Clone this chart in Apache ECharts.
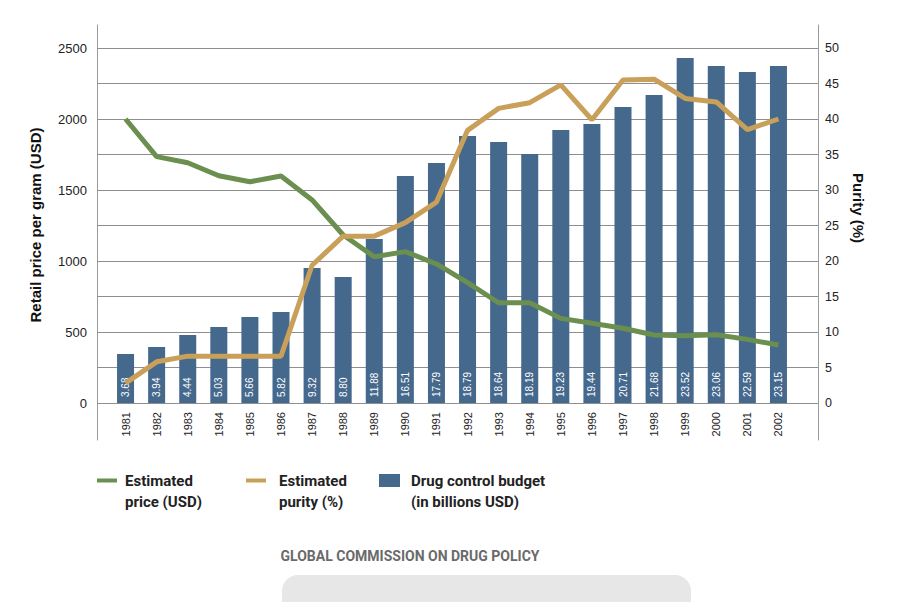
<!DOCTYPE html>
<html>
<head>
<meta charset="utf-8">
<script src="https://cdn.jsdelivr.net/npm/echarts@6/dist/echarts.min.js"></script>
<style>
html,body{margin:0;padding:0;background:#fff;}
#chart{width:911px;height:602px;}
</style>
</head>
<body>
<div id="chart"></div>
<script>
const years = ['1981','1982','1983','1984','1985','1986','1987','1988','1989','1990','1991','1992','1993','1994','1995','1996','1997','1998','1999','2000','2001','2002'];
const budgetLabels = ['3.68','3.94','4.44','5.03','5.66','5.82','9.32','8.80','11.88','16.51','17.79','18.79','18.64','18.19','19.23','19.44','20.71','21.68','23.52','23.06','22.59','23.15'];
const budgetBarHeights = [345,394,479,535,606,641,951,887,1155,1599,1690,1880,1838,1754,1923,1965,2085,2169,2430,2373,2331,2373];
const price = [2000,1735,1692,1600,1558,1599,1430,1183,1030,1066,979,847,706,706,596,561,526,479,474,480,448,408];
const purity = [2.8,5.8,6.6,6.6,6.6,6.6,19.4,23.5,23.5,25.4,28.3,38.4,41.5,42.3,44.8,39.9,45.5,45.6,42.9,42.4,38.5,40.0];
const names = {
  price: 'Estimated price (USD)',
  purity: 'Estimated purity (%)',
  budget: 'Drug control budget (in billions USD)'
};
const legendText = {
  'Estimated price (USD)': '\nEstimated\nprice (USD)',
  'Estimated purity (%)': '\nEstimated\npurity (%)',
  'Drug control budget (in billions USD)': '\nDrug control budget\n(in billions USD)'
};

const COL_BAR = '#45688d', COL_PRICE = '#6a8f4f', COL_PURITY = '#c9a05a';
const GRID_COL = '#8e8e8e';
const FONT = 'Liberation Sans, Arial, sans-serif';

const chart = echarts.init(document.getElementById('chart'), null, {renderer: 'svg'});

function legendFor(name, left, w, h, gap) {
  return {
    orient: 'horizontal', top: 449, left: left, padding: 0,
    data: [{name: name, icon: 'rect'}], itemWidth: w, itemHeight: h,
    formatter: n => legendText[n],
    textStyle: {fontFamily: 'Roboto, sans-serif', fontWeight: 'bold', fontSize: 15, lineHeight: 21, color: '#222', padding: [0, 0, 0, gap]},
    selectedMode: false
  };
}

chart.setOption({
  animation: false,
  backgroundColor: '#fff',
  grid: [
    {left: 97, right: 93, top: 48, bottom: 199},
    {left: 110, right: 117, top: 48, bottom: 199},
    {left: 97, right: 93, top: 25, bottom: 162}
  ],
  xAxis: [
    {gridIndex: 0, type: 'value', show: false, min: 0, max: 1},
    {gridIndex: 1, type: 'category', data: years,
     axisLine: {show: false}, axisTick: {show: false},
     axisLabel: {rotate: 90, margin: 9, fontSize: 11, color: '#222', fontFamily: FONT, interval: 0}},
    {gridIndex: 2, type: 'value', show: false, min: 0, max: 1}
  ],
  yAxis: [
    {gridIndex: 0, type: 'value', position: 'left', min: 0, max: 2500, interval: 250,
     axisLine: {show: false}, axisTick: {show: false},
     splitLine: {show: true, lineStyle: {color: GRID_COL, width: 1}},
     axisLabel: {margin: 10, fontSize: 13, color: '#222', fontFamily: FONT,
       formatter: v => (v % 500 === 0 ? String(v) : '')}},
    {gridIndex: 0, type: 'value', position: 'right', min: 0, max: 50, interval: 5,
     axisLine: {show: false}, axisTick: {show: false}, splitLine: {show: false},
     axisLabel: {margin: 7, fontSize: 12.5, color: '#222', fontFamily: FONT}},
    {gridIndex: 1, type: 'value', min: 0, max: 2500, show: false},
    {gridIndex: 1, type: 'value', min: 0, max: 50, show: false, position: 'right'},
    {gridIndex: 2, type: 'value', position: 'left', min: 0, max: 1,
     axisLine: {show: true, lineStyle: {color: '#9a9a9a', width: 1}},
     axisTick: {show: false}, axisLabel: {show: false}, splitLine: {show: false}},
    {gridIndex: 2, type: 'value', position: 'right', min: 0, max: 1,
     axisLine: {show: true, lineStyle: {color: '#9a9a9a', width: 1}},
     axisTick: {show: false}, axisLabel: {show: false}, splitLine: {show: false}}
  ],
  legend: [
    legendFor(names.price, 97, 20, 4, 3),
    legendFor(names.purity, 246, 20, 4, 8),
    legendFor(names.budget, 379, 21, 13, 6)
  ],
  series: [
    {name: names.budget, type: 'bar', xAxisIndex: 1, yAxisIndex: 2, data: budgetBarHeights,
     barWidth: 17, itemStyle: {color: COL_BAR},
     label: {show: true, position: 'insideBottom', rotate: 90, align: 'left', verticalAlign: 'middle',
       distance: 6, color: '#fff', fontSize: 10, fontFamily: FONT,
       formatter: p => budgetLabels[p.dataIndex]}},
    {name: names.price, type: 'line', xAxisIndex: 1, yAxisIndex: 2, data: price,
     symbol: 'none', lineStyle: {color: COL_PRICE, width: 5}, itemStyle: {color: COL_PRICE}},
    {name: names.purity, type: 'line', xAxisIndex: 1, yAxisIndex: 3, data: purity,
     symbol: 'none', lineStyle: {color: COL_PURITY, width: 5}, itemStyle: {color: COL_PURITY}}
  ],
  graphic: [
    {type: 'text', x: 35, y: 225, rotation: Math.PI / 2,
     style: {text: 'Retail price per gram (USD)', fill: '#111', font: 'bold 15px Liberation Sans, Arial, sans-serif', textAlign: 'center', textVerticalAlign: 'middle'}},
    {type: 'text', x: 858, y: 208, rotation: -Math.PI / 2,
     style: {text: 'Purity (%)', fill: '#111', font: 'bold 15px Liberation Sans, Arial, sans-serif', textAlign: 'center', textVerticalAlign: 'middle'}},
    {type: 'text', x: 410, y: 556,
     style: {text: 'GLOBAL COMMISSION ON DRUG POLICY', fill: '#6a6a6a', font: 'bold 14px Roboto, sans-serif', textAlign: 'center', textVerticalAlign: 'middle'}},
    {type: 'rect', shape: {x: 282, y: 575, width: 409, height: 50, r: 16},
     style: {fill: '#e7e7e7'}}
  ]
});
</script>
</body>
</html>
